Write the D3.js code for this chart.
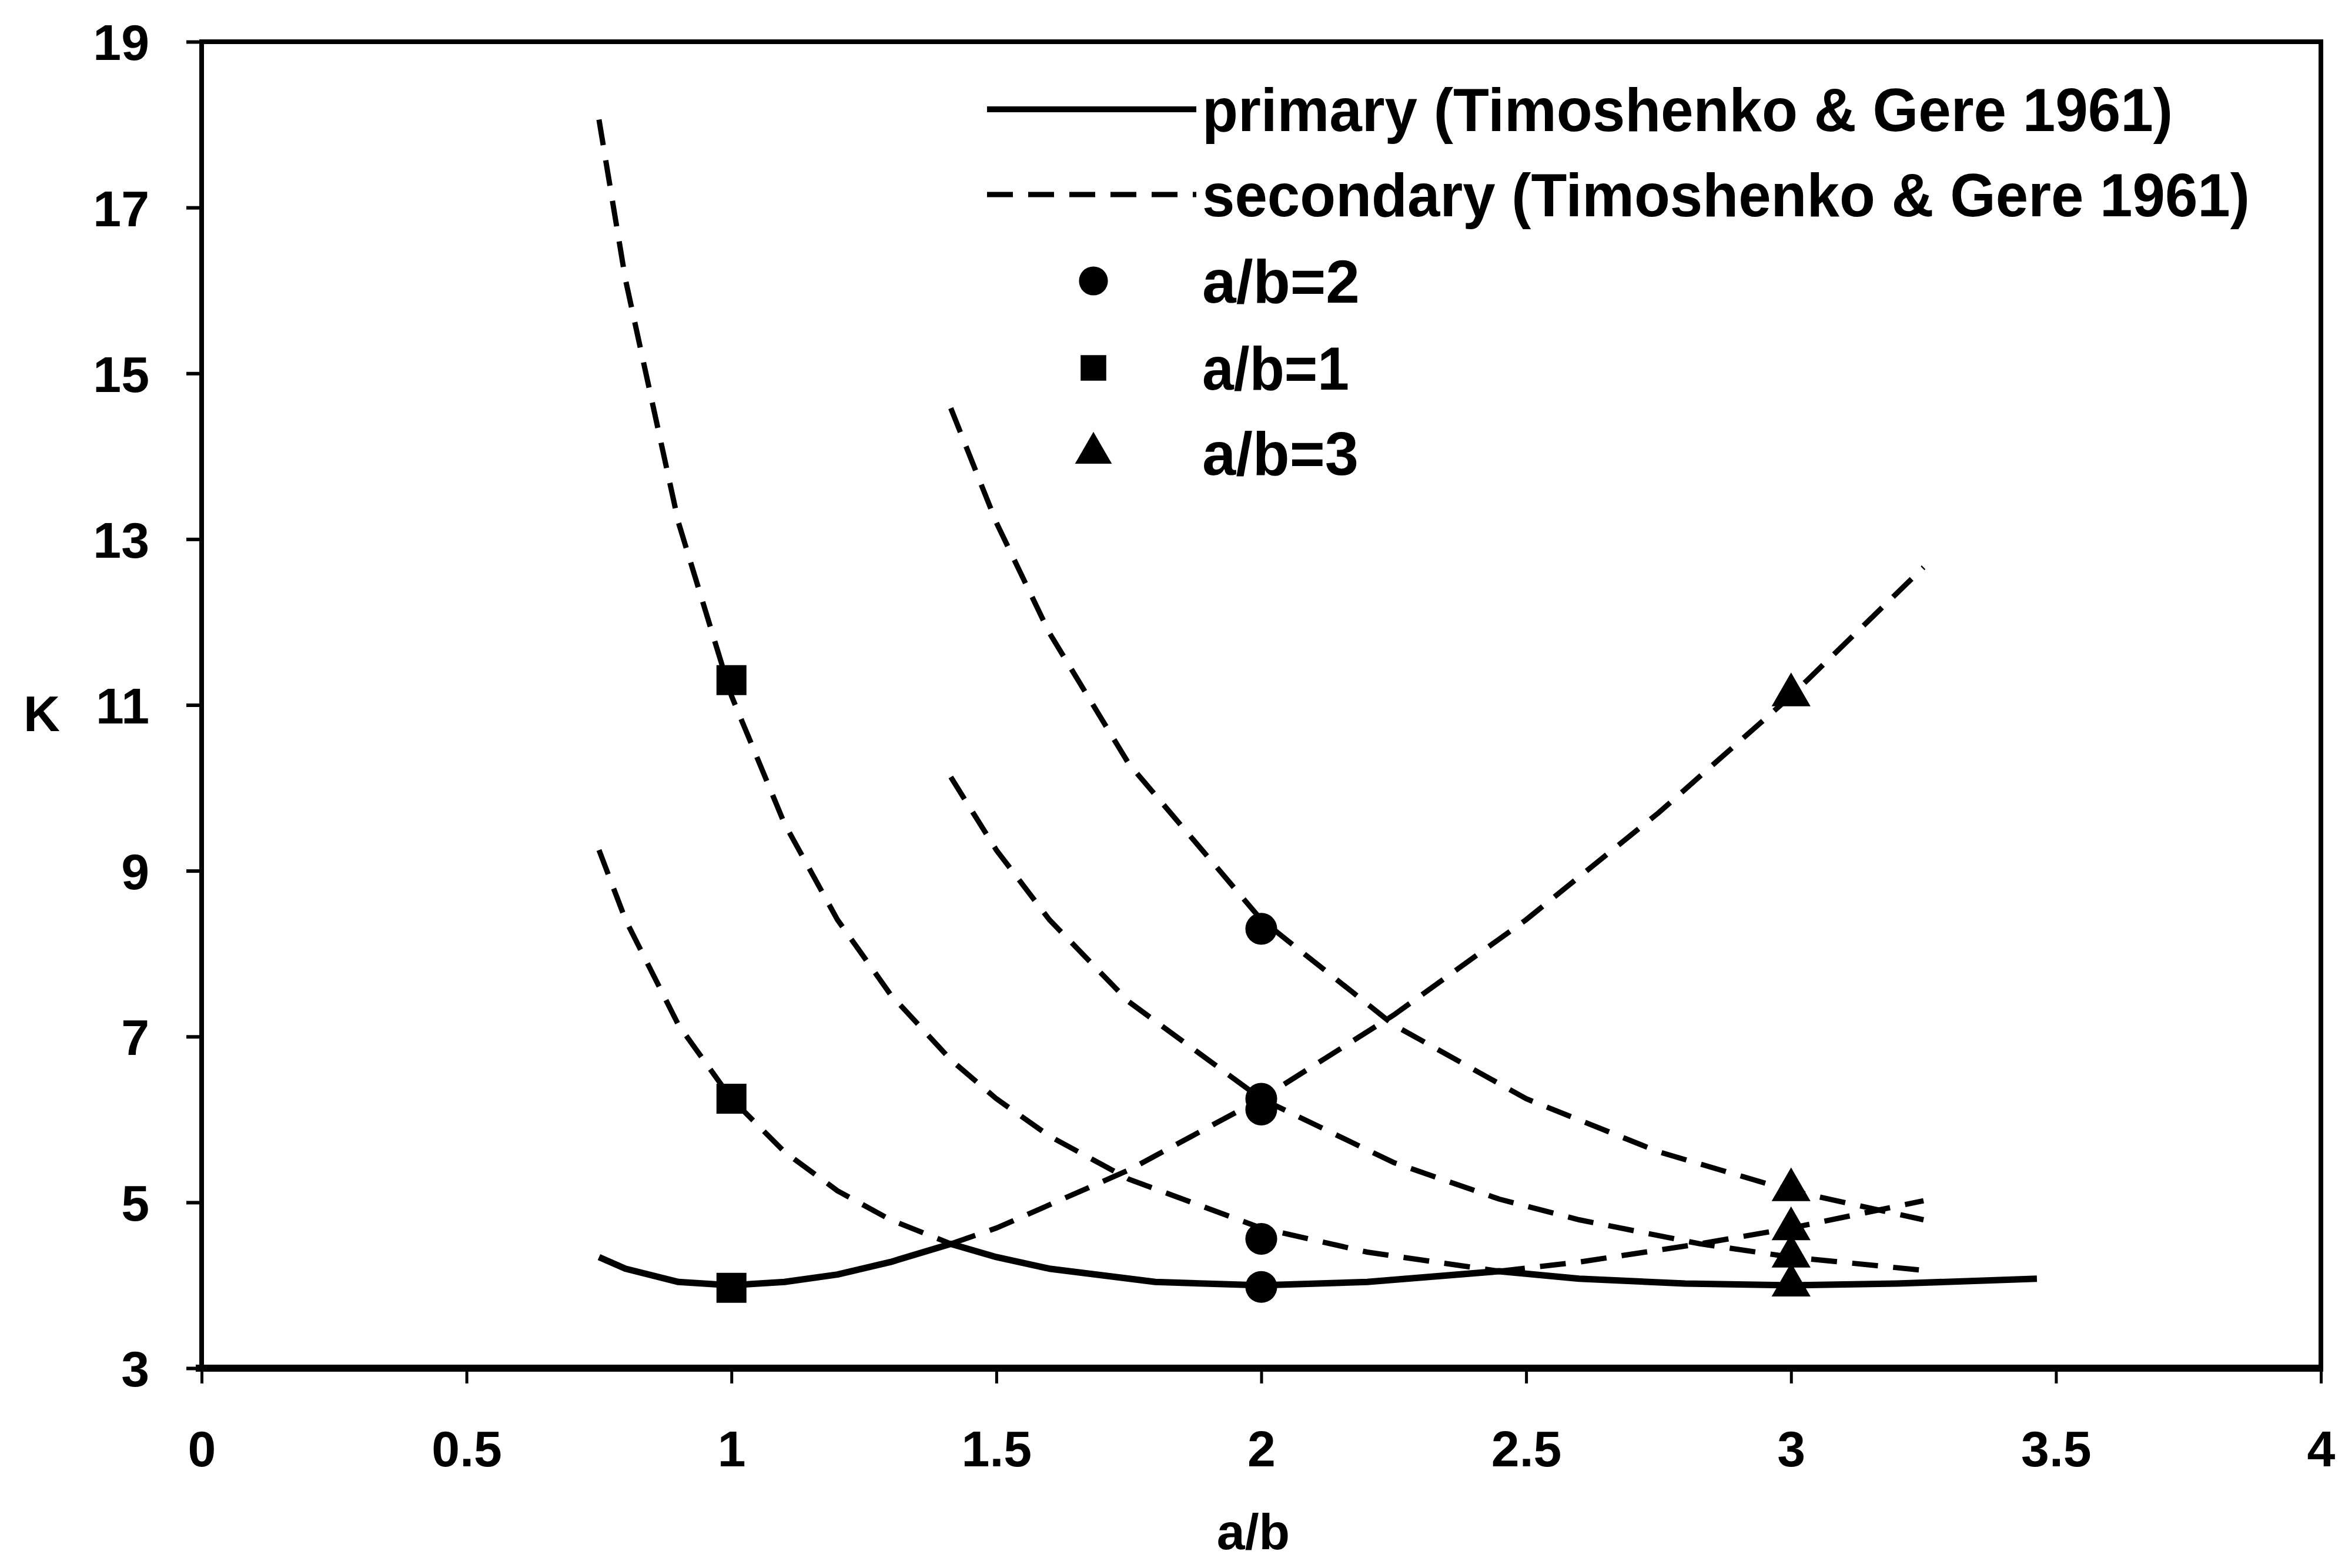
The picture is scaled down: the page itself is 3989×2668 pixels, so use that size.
<!DOCTYPE html>
<html><head><meta charset="utf-8">
<script src="https://cdn.jsdelivr.net/npm/d3@7"></script>
<style>
body{margin:0;background:#fff;}
svg{display:block;}
text{font-family:"Liberation Sans",Arial,Helvetica,sans-serif;fill:#000;}
</style>
</head><body>
<script>
// ---------- data ----------
const xTicks = [0, 0.5, 1, 1.5, 2, 2.5, 3, 3.5, 4];
const xTickLabels = ["0", "0.5", "1", "1.5", "2", "2.5", "3", "3.5", "4"];
const yTicks = [3, 5, 7, 9, 11, 13, 15, 17, 19];
const yTickLabels = ["3", "5", "7", "9", "11", "13", "15", "17", "19"];

// primary curve (solid)
const primaryX = [0.75, 0.8, 0.9, 1.0, 1.1, 1.2, 1.3, 1.414, 1.5, 1.6, 1.8, 2.0, 2.2, 2.449, 2.6, 2.8, 3.0, 3.2, 3.464];
const primaryY = [4.34, 4.20, 4.04, 4.00, 4.04, 4.13, 4.28, 4.50, 4.34, 4.20, 4.04, 4.00, 4.04, 4.17, 4.08, 4.02, 4.00, 4.02, 4.08];

// secondary curves (dashed)
const sec1X = [1.414, 1.5, 1.75, 2.0, 2.25, 2.5, 2.75, 3.0, 3.25];
const sec1Y = [4.50, 4.69, 5.39, 6.25, 7.26, 8.41, 9.70, 11.11, 12.66];
const sec2aX = [0.75, 0.8, 0.9, 1.0, 1.1, 1.2, 1.3, 1.414];
const sec2aY = [9.25, 8.41, 7.14, 6.25, 5.61, 5.14, 4.79, 4.50];
const sec2bX = [2.449, 2.6, 2.828, 3.0, 3.25];
const sec2bY = [4.17, 4.28, 4.50, 4.69, 5.02];
const sec3X = [0.75, 0.8, 0.9, 1.0, 1.1, 1.2, 1.3, 1.414, 1.5, 1.6, 1.75, 2.0, 2.2, 2.449];
const sec3Y = [18.06, 16.13, 13.20, 11.11, 9.57, 8.41, 7.51, 6.72, 6.25, 5.80, 5.28, 4.69, 4.40, 4.17];
const sec4X = [1.414, 1.5, 1.6, 1.75, 2.0, 2.25, 2.449, 2.6, 2.828, 3.0, 3.25];
const sec4Y = [10.13, 9.25, 8.41, 7.42, 6.25, 5.48, 5.04, 4.79, 4.50, 4.34, 4.18];
const sec5X = [1.414, 1.5, 1.6, 1.75, 2.0, 2.25, 2.5, 2.75, 3.0, 3.25];
const sec5Y = [14.58, 13.20, 11.87, 10.29, 8.41, 7.14, 6.25, 5.61, 5.14, 4.79];

// markers
const circleX = [2, 2, 2, 2, 2];
const circleY = [8.3, 6.25, 6.12, 4.56, 3.98];
const squareX = [1, 1, 1];
const squareY = [11.3, 6.25, 3.97];
const triangleX = [3, 3, 3, 3, 3];
const triangleY = [11.12, 5.15, 4.68, 4.35, 4.0];

const legendLabels = ["primary (Timoshenko & Gere 1961)", "secondary (Timoshenko & Gere 1961)", "a/b=2", "a/b=1", "a/b=3"];
const xTitle = "a/b";
const yTitle = "K";

// ---------- layout ----------
const W = 3989, H = 2668;
const L = 343, R = 3948, T = 71, B = 2328;

const svg = d3.select("body").append("svg").attr("width", W).attr("height", H);
svg.append("rect").attr("width", W).attr("height", H).attr("fill", "#fff");

const x = d3.scaleLinear().domain([0, 4]).range([L, R]);
const y = d3.scaleLinear().domain([3, 19]).range([B, T]);

const lineGen = d3.line().x(d => x(d[0])).y(d => y(d[1])).curve(d3.curveLinear);
const zip = (a, b) => a.map((v, i) => [v, b[i]]);

const TICKFONT = 86;
const FONT = '"Liberation Sans",Arial,sans-serif';

// axes
const xAxis = d3.axisBottom(x).tickValues(xTicks).tickFormat((d, i) => xTickLabels[i]).tickSize(26).tickPadding(80);
const gx = svg.append("g").attr("transform", `translate(0,${B})`).call(xAxis);
gx.select(".domain").remove();
gx.selectAll(".tick line").attr("stroke", "#000").attr("stroke-width", 5);
gx.selectAll(".tick text").attr("font-size", TICKFONT).attr("font-weight", "bold").attr("fill", "#000")
  .style("font-family", FONT);

const yAxis = d3.axisLeft(y).tickValues(yTicks).tickFormat((d, i) => yTickLabels[i]).tickSize(26).tickPadding(63);
const gy = svg.append("g").attr("transform", `translate(${L},0)`).call(yAxis);
gy.select(".domain").remove();
gy.selectAll(".tick line").attr("stroke", "#000").attr("stroke-width", 6);
gy.selectAll(".tick text").attr("font-size", TICKFONT).attr("font-weight", "bold").attr("fill", "#000")
  .attr("dy", "0.36em").style("font-family", FONT);

// frame
svg.append("rect").attr("x", L).attr("y", T).attr("width", R - L).attr("height", B - T)
  .attr("fill", "none").attr("stroke", "#000").attr("stroke-width", 8);
svg.append("line").attr("x1", L - 10).attr("x2", R + 4).attr("y1", B).attr("y2", B)
  .attr("stroke", "#000").attr("stroke-width", 12);

// axis titles
svg.append("text").attr("x", 71).attr("y", y(11) + 14).attr("dy", "0.36em").attr("text-anchor", "middle")
  .attr("font-size", TICKFONT).attr("font-weight", "bold").text(yTitle);
svg.append("text").attr("x", 2132).attr("y", 2636).attr("text-anchor", "middle")
  .attr("font-size", TICKFONT).attr("font-weight", "bold").text(xTitle);

// curves
const plot = svg.append("g");
const DASH = "44,26";
const secondary = [[sec1X, sec1Y], [sec2aX, sec2aY], [sec2bX, sec2bY], [sec3X, sec3Y], [sec4X, sec4Y], [sec5X, sec5Y]];
secondary.forEach(([xs, ys]) => {
  plot.append("path").attr("d", lineGen(zip(xs, ys))).attr("fill", "none")
    .attr("stroke", "#000").attr("stroke-width", 9).attr("stroke-dasharray", DASH);
});
plot.append("path").attr("d", lineGen(zip(primaryX, primaryY))).attr("fill", "none")
  .attr("stroke", "#000").attr("stroke-width", 11).attr("stroke-linejoin", "round");

// markers
const sym = (type, size) => d3.symbol().type(type).size(size)();
zip(circleX, circleY).forEach(d => plot.append("path").attr("d", sym(d3.symbolCircle, 2300))
  .attr("transform", `translate(${x(d[0])},${y(d[1])})`).attr("fill", "#000"));
zip(squareX, squareY).forEach(d => plot.append("path").attr("d", sym(d3.symbolSquare, 2600))
  .attr("transform", `translate(${x(d[0])},${y(d[1])})`).attr("fill", "#000"));
zip(triangleX, triangleY).forEach(d => plot.append("path").attr("d", sym(d3.symbolTriangle, 1900))
  .attr("transform", `translate(${x(d[0])},${y(d[1])})`).attr("fill", "#000"));

// legend
const LEGFONT = 104;
const lg = svg.append("g");
const lx0 = 1679, lx1 = 2035, tx = 2045, mx = 1860;
const rows = [186, 331, 478, 626, 771];
lg.append("line").attr("x1", lx0).attr("x2", lx1).attr("y1", rows[0]).attr("y2", rows[0])
  .attr("stroke", "#000").attr("stroke-width", 10);
lg.append("line").attr("x1", lx0).attr("x2", lx1).attr("y1", rows[1]).attr("y2", rows[1])
  .attr("stroke", "#000").attr("stroke-width", 9).attr("stroke-dasharray", DASH);
lg.append("path").attr("d", sym(d3.symbolCircle, 1900)).attr("transform", `translate(${mx},${rows[2]})`);
lg.append("path").attr("d", sym(d3.symbolSquare, 1900)).attr("transform", `translate(${mx},${rows[3]})`);
lg.append("path").attr("d", sym(d3.symbolTriangle, 1700)).attr("transform", `translate(${mx},${rows[4]})`);
const legLens = [1651, 1782, 268, 250, 266];
legendLabels.forEach((t, i) => {
  lg.append("text").attr("x", tx).attr("y", rows[i]).attr("dy", "0.36em")
    .attr("font-size", LEGFONT).attr("font-weight", "bold").text(t)
    .attr("textLength", legLens[i]).attr("lengthAdjust", "spacingAndGlyphs");
});
</script>
</body></html>
